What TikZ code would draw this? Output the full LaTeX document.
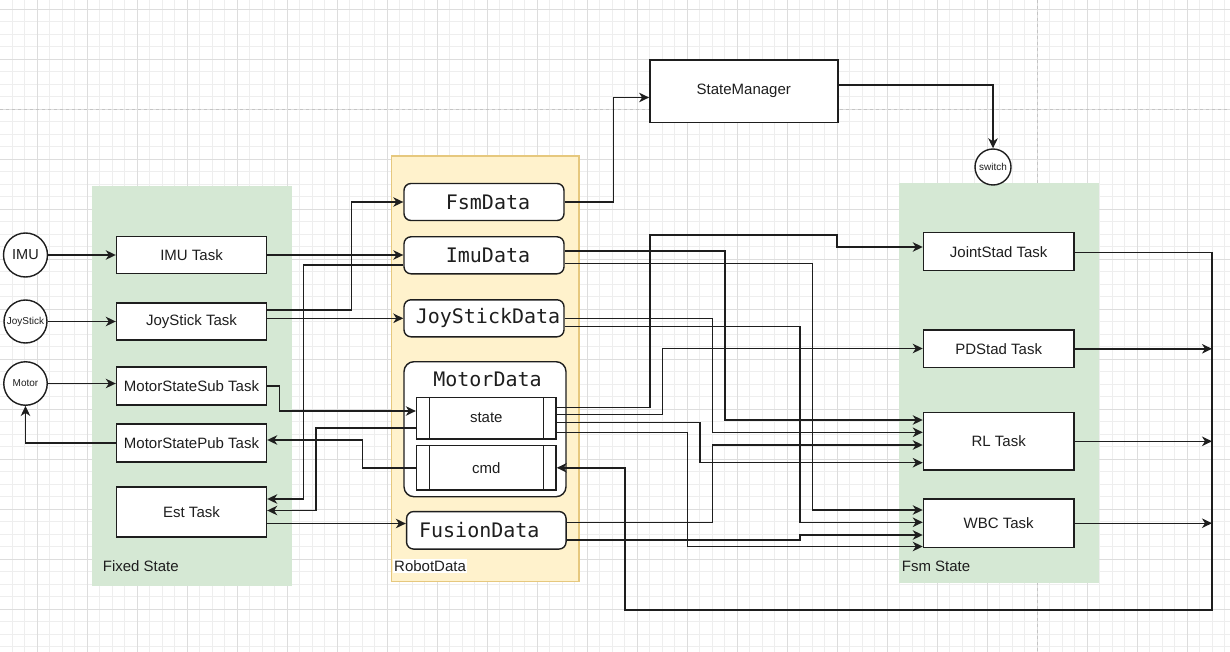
\documentclass[tikz,border=0pt]{standalone}
\usepackage{fontspec}
\setmainfont{Liberation Sans}
\newfontfamily\codefont{DejaVu Sans Mono}
\usetikzlibrary{arrows.meta}
\definecolor{fixedgreen}{HTML}{D5E8D4}
\definecolor{datayellow}{HTML}{FFF2CC}
\definecolor{datagold}{HTML}{E6C87E}
\definecolor{gridminor}{HTML}{EEEEEE}
\definecolor{gridmajor}{HTML}{DDDDDD}
\definecolor{pagebreak}{HTML}{C4C4C4}
\definecolor{ink}{HTML}{1E1E1E}
\begin{document}
\begin{tikzpicture}[x=1pt,y=-1pt,
  box/.style={draw=ink, line width=1.4pt, fill=white, inner sep=0pt,
    font=\fontsize{15}{18}\selectfont, text=ink},
  databox/.style={box, rounded corners=7pt, font=\codefont\fontsize{20}{24}\selectfont},
  src/.style={circle, draw=ink, line width=1.4pt, fill=white, inner sep=0pt, text=ink},
  grouplabel/.style={anchor=west, inner sep=0pt, font=\fontsize{15}{18}\selectfont, text=ink},
  conn/.style={draw=ink, line width=1.4pt},
  arr/.style={conn, -{Stealth[length=10pt,width=9.5pt,inset=3pt]}},
]
% canvas and grid
\useasboundingbox (0,0) rectangle (1230,652);
\fill[white] (0,0) rectangle (1230,652);
\foreach \i in {0,...,99} {
  \draw[gridminor, line width=0.8pt] ({-0.5+12.5*\i},0) -- ({-0.5+12.5*\i},652);
}
\foreach \i in {0,...,52} {
  \draw[gridminor, line width=0.8pt] (0,{-3.2+12.5*\i}) -- (1230,{-3.2+12.5*\i});
}
\foreach \i in {1,...,25} {
  \draw[gridmajor, line width=1pt] ({-13+50*\i},0) -- ({-13+50*\i},652);
}
\foreach \i in {0,...,12} {
  \draw[gridmajor, line width=1pt] (0,{9.3+50*\i}) -- (1230,{9.3+50*\i});
}
\draw[pagebreak, line width=1pt, dash pattern=on 3pt off 3pt] (0,109.5) -- (1230,109.5);
\draw[pagebreak, line width=1pt, dash pattern=on 3pt off 3pt] (1037,0) -- (1037,652);

% groups
\fill[fixedgreen] (91.7,186) rectangle (291.7,585.7);
\filldraw[fill=datayellow, draw=datagold, line width=1.3pt] (391.7,156) rectangle (579,581.7);
\fill[fixedgreen] (899,183.3) rectangle (1099,582.7);
\node[grouplabel] (fixedlbl) at (102.7,566) {Fixed State};
\node[grouplabel, fill=white, inner sep=1pt] (robotlbl) at (393,566) {RobotData};
\node[grouplabel] (fsmlbl) at (901.7,566) {Fsm State};

% sources
\node[src, minimum size=44pt, font=\fontsize{14.5}{17}\selectfont] (imu) at (25.5,255) {IMU};
\node[src, minimum size=43pt, font=\fontsize{10}{12}\selectfont] (joy) at (25.5,321.5) {JoyStick};
\node[src, minimum size=43.5pt, font=\fontsize{10}{12}\selectfont] (motor) at (25.5,383.5) {Motor};
\node[src, minimum size=36pt, font=\fontsize{10}{12}\selectfont] (switch) at (993,167) {switch};

% fixed-state tasks
\node[box, minimum width=150pt, minimum height=37pt] (imutask) at (191.5,255) {IMU Task};
\node[box, minimum width=150pt, minimum height=37pt] (joytask) at (191.5,321.5) {JoyStick Task};
\node[box, minimum width=150pt, minimum height=38pt] (subtask) at (191.5,386) {MotorStateSub Task};
\node[box, minimum width=150pt, minimum height=38pt] (pubtask) at (191.5,443) {MotorStatePub Task};
\node[box, minimum width=150pt, minimum height=50pt] (esttask) at (191.5,512) {Est Task};

% robot data
\node[databox, minimum width=160pt, minimum height=37pt] (fsmdata) at (484,202) {\hspace*{8pt}FsmData};
\node[databox, minimum width=160pt, minimum height=37pt] (imudata) at (484,255.3) {\hspace*{8pt}ImuData};
\node[databox, minimum width=160pt, minimum height=37pt] (joydata) at (484,318.3) {\hspace*{8pt}JoyStickData};
\node[box, rounded corners=10pt, minimum width=162pt, minimum height=135pt] (motordata) at (485,429.2) {};
\node[inner sep=0pt, font=\codefont\fontsize{20}{24}\selectfont, text=ink] (motortitle) at (487.5,379) {MotorData};
\node[box, minimum width=139.5pt, minimum height=41.5pt] (state) at (486.3,418.2) {state};
\node[box, minimum width=139.5pt, minimum height=44.5pt] (cmd) at (486.3,467.8) {cmd};
\foreach \n in {state,cmd} {
  \draw[conn] ([xshift=13.5pt]\n.north west) -- ([xshift=13.5pt]\n.south west)
              ([xshift=-13.5pt]\n.north east) -- ([xshift=-13.5pt]\n.south east);
}
\node[databox, minimum width=159.5pt, minimum height=37.5pt] (fusiondata) at (486.3,530.3) {FusionData\hspace*{14pt}};

% state manager
\node[box, minimum width=188pt, minimum height=62.5pt] (statemgr) at (743.8,91.2) {StateManager};

% fsm-state tasks
\node[box, minimum width=150.5pt, minimum height=38pt] (jointtask) at (998.7,251.7) {JointStad Task};
\node[box, minimum width=150.5pt, minimum height=37.5pt] (pdtask) at (998.7,348.8) {PDStad Task};
\node[box, minimum width=150.5pt, minimum height=57.5pt] (rltask) at (998.7,441.3) {RL Task};
\node[box, minimum width=150.5pt, minimum height=48.5pt] (wbctask) at (998.7,523.2) {WBC Task};

% inputs into the fixed-state tasks
\draw[arr] (imu.east) -- (imutask.west);
\draw[arr] (joy.east) -- (joy.east -| joytask.west);
\draw[arr] (motor.east) -- (motor.east -| subtask.west);
\draw[arr] (pubtask.west) -| (motor.south);

% fixed-state tasks <-> robot data
\draw[arr] (imutask.east) -- (imutask.east -| imudata.west);
\draw[arr] (joytask.east |- 0,310) -- ++(84,0) |- (fsmdata.west);
\draw[arr] (joytask.east |- joydata.west) -- (joydata.west);
\draw[arr] (subtask.east) -- ++(12.5,0) |- (state.west |- 0,411);
\draw[arr] (state.west |- 0,428) -- ++(-100,0) |- (esttask.east |- 0,510.5);
\draw[arr] (imudata.west |- 0,265) -- ++(-100,0) |- (esttask.east |- 0,499);
\draw[arr] (cmd.west) -- ++(-53.5,0) |- (pubtask.east |- 0,440);
\draw[arr] (esttask.east |- 0,523.5) -- (fusiondata.west |- 0,523.5);

% state manager and switch
\draw[arr] (fsmdata.east) -- ++(48.5,0) |- (statemgr.west |- 0,97.5);
\draw[arr] (statemgr.east |- 0,85) -| (switch.north);

% robot data -> fsm-state tasks
\draw[arr] (state.east |- 0,407.5) -| (650,235) -| (837,247) -- (jointtask.west |- 0,247);
\draw[arr] (imudata.east |- 0,251) -| (725,420) -- (rltask.west |- 0,420);
\draw[arr] (imudata.east |- 0,263.3) -| (812.7,510) -- (wbctask.west |- 0,510);
\draw[arr] (joydata.east) -| (712.3,432.3) -- (rltask.west |- 0,432.3);
\draw[arr] (joydata.east |- 0,326.7) -| (800,522.3) -- (wbctask.west |- 0,522.3);
\draw[arr] (state.east |- 0,414.3) -| (662.7,348.5) -- (pdtask.west |- 0,348.5);
\draw[arr] (state.east |- 0,422.7) -| (700,462.7) -- (rltask.west |- 0,462.7);
\draw[arr] (state.east |- 0,432.7) -| (687.3,546.5) -- (wbctask.west |- 0,546.5);
\draw[arr] (fusiondata.east |- 0,522.3) -| (712.3,445) -- (rltask.west |- 0,445);
\draw[arr] (fusiondata.east |- 0,540) -| (800,535) -- (wbctask.west |- 0,535);

% fsm-state outputs, gathered on the right and fed back to the motor command
\coordinate (busnorth) at (1212,252.5);
\coordinate (bussouth) at (1212,610);
\draw[arr] (jointtask.east |- busnorth) -- (busnorth) -- (bussouth) -| (625,467.8) -- (cmd.east);
\draw[arr] (pdtask.east) -- (pdtask.east -| busnorth);
\draw[arr] (rltask.east) -- (rltask.east -| busnorth);
\draw[arr] (wbctask.east) -- (wbctask.east -| busnorth);
\end{tikzpicture}
\end{document}
